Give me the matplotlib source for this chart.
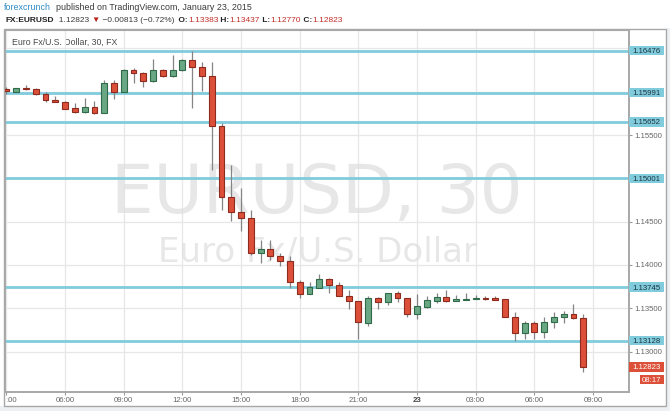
import matplotlib
matplotlib.use('Agg')
import matplotlib.pyplot as plt
from matplotlib.patches import Rectangle
from matplotlib.transforms import blended_transform_factory

# ---------------- data ----------------
opens = [1.16032, 1.16001, 1.16044, 1.16029, 1.15971, 1.15905, 1.15886, 1.15809, 1.15763, 1.15821,
         1.15759, 1.16105, 1.15994, 1.16248, 1.16220, 1.16128, 1.16248, 1.16179, 1.16248, 1.16364,
         1.16290, 1.16186, 1.15601, 1.14785, 1.14615, 1.14543, 1.14142, 1.14185, 1.14104, 1.14043,
         1.13800, 1.13669, 1.13738, 1.13835, 1.13765, 1.13645, 1.13581, 1.13334, 1.13622, 1.13573,
         1.13673, 1.13615, 1.13431, 1.13518, 1.13588, 1.13627, 1.13588, 1.13596, 1.13604, 1.13619,
         1.13619, 1.13604, 1.13403, 1.13218, 1.13330, 1.13230, 1.13338, 1.13396, 1.13434, 1.13383]
highs = [1.16055, 1.16044, 1.16075, 1.16038, 1.15994, 1.15948, 1.15897, 1.15867, 1.15932, 1.15897,
         1.16133, 1.16136, 1.16260, 1.16275, 1.16229, 1.16375, 1.16260, 1.16428, 1.16375, 1.16476,
         1.16341, 1.16347, 1.15643, 1.15151, 1.14889, 1.14635, 1.14289, 1.14289, 1.14142, 1.14104,
         1.13827, 1.13807, 1.13896, 1.13853, 1.13800, 1.13711, 1.13584, 1.13638, 1.13630, 1.13677,
         1.13703, 1.13619, 1.13662, 1.13642, 1.13680, 1.13711, 1.13657, 1.13673, 1.13653, 1.13642,
         1.13642, 1.13611, 1.13454, 1.13350, 1.13350, 1.13396, 1.13454, 1.13465, 1.13550, 1.13437]
lows = [1.15978, 1.15998, 1.16026, 1.15963, 1.15886, 1.15879, 1.15801, 1.15759, 1.15759, 1.15740,
        1.15752, 1.15913, 1.15994, 1.16105, 1.16052, 1.16113, 1.16174, 1.16174, 1.16240, 1.15809,
        1.16013, 1.15093, 1.14635, 1.14511, 1.14396, 1.14115, 1.14026, 1.14058, 1.13992, 1.13738,
        1.13615, 1.13665, 1.13734, 1.13680, 1.13638, 1.13492, 1.13145, 1.13296, 1.13488, 1.13538,
        1.13569, 1.13403, 1.13376, 1.13503, 1.13565, 1.13576, 1.13588, 1.13596, 1.13602, 1.13596,
        1.13598, 1.13396, 1.13122, 1.13149, 1.13142, 1.13160, 1.13269, 1.13327, 1.13371, 1.12770]
closes = [1.16009, 1.16040, 1.16029, 1.15971, 1.15902, 1.15882, 1.15805, 1.15763, 1.15824, 1.15759,
          1.16105, 1.15994, 1.16248, 1.16213, 1.16128, 1.16248, 1.16179, 1.16248, 1.16364, 1.16290,
          1.16186, 1.15601, 1.14785, 1.14615, 1.14543, 1.14142, 1.14185, 1.14107, 1.14043, 1.13800,
          1.13669, 1.13742, 1.13835, 1.13765, 1.13645, 1.13581, 1.13338, 1.13622, 1.13573, 1.13673,
          1.13615, 1.13431, 1.13526, 1.13592, 1.13627, 1.13588, 1.13604, 1.13607, 1.13619, 1.13611,
          1.13599, 1.13403, 1.13218, 1.13330, 1.13230, 1.13338, 1.13396, 1.13434, 1.13383, 1.12823]

levels = [1.16476, 1.15991, 1.15652, 1.15001, 1.13745, 1.13128]
price_ticks = [1.130, 1.135, 1.140, 1.145, 1.150, 1.155, 1.160, 1.165]
hidden_ticks = [1.150, 1.160, 1.165]
time_labels = [':00', '06:00', '09:00', '12:00', '15:00', '18:00', '21:00', '23', '03:00', '06:00', '09:00']
candles_per_label = 6
last_price = 1.12823
countdown = '08:17'

symbol = 'FX:EURUSD'
change = '\u22120.00813 (\u22120.72%)'
ohlc_names = ['O:', 'H:', 'L:', 'C:']
ohlc_values = ['1.13383', '1.13437', '1.12770', '1.12823']

# ---------------- style ----------------
W, H = 670, 411
RED = '#dc5039'
RED_EDGE = '#8e2b1f'
GREEN = '#6aa784'
GREEN_EDGE = '#2f6b48'
WICK = '#858585'
BLUE = '#80cbdc'
GRID = '#e7e7e7'
FRAME = '#a8a8a8'
AXTXT = '#666666'
FAM = ['Liberation Sans', 'DejaVu Sans']

plt.rcParams['font.family'] = FAM

fig = plt.figure(figsize=(W / 100, H / 100), dpi=100)
fig.patch.set_facecolor('white')

# overlay (pixel coordinates) for header and frame
ov = fig.add_axes([0, 0, 1, 1], zorder=0)
ov.set_xlim(0, W)
ov.set_ylim(H, 0)
ov.axis('off')
ov.add_patch(Rectangle((0, 406), W, H - 406, fc='#eef1f4', ec='none'))
ov.add_patch(Rectangle((666, 28), W - 666, H - 28, fc='#eef1f4', ec='none'))
ov.add_patch(Rectangle((4, 29.5), 662, 376.5, fc='white', ec=FRAME, lw=1.0))

# main axes
ax_l, ax_r, ax_t, ax_b = 4.5, 629.0, 30.0, 391.7
ax = fig.add_axes([ax_l / W, (H - ax_b) / H, (ax_r - ax_l) / W, (ax_b - ax_t) / H], zorder=2)
ax.set_facecolor('none')

n = len(opens)
xs = list(range(n))
ax.set_xlim(-0.2, 63.68)
ax.set_ylim(1.12537, 1.16713)

# grid
tick_pos = list(range(0, candles_per_label * len(time_labels), candles_per_label))
for tp in tick_pos:
    ax.axvline(tp, color=GRID, lw=0.9, zorder=0)
for pt in price_ticks:
    ax.axhline(pt, color=GRID, lw=0.9, zorder=0)

# watermark
ax.text(0.5, 0.495, 'EURUSD, 30', transform=ax.transAxes, ha='center', va='baseline',
        fontsize=48.5, color='#dedede', alpha=0.72, family='DejaVu Sans', zorder=1)
ax.text(0.501, 0.359, 'Euro Fx/U.S. Dollar', transform=ax.transAxes, ha='center', va='baseline',
        fontsize=24.5, color='#dedede', alpha=0.72, family='DejaVu Sans', zorder=1)

# levels
for lv in levels:
    ax.axhline(lv, color=BLUE, lw=2.0, zorder=2)

# candles
bw = 0.6
for i in xs:
    o, h, l, c = opens[i], highs[i], lows[i], closes[i]
    up = c >= o
    ax.vlines(i, l, h, color=WICK, lw=0.9, zorder=3)
    bot = min(o, c)
    ht = max(abs(c - o), 0.00004)
    ax.bar(i, ht, bottom=bot, width=bw, color=GREEN if up else RED,
           edgecolor=GREEN_EDGE if up else RED_EDGE, linewidth=0.8, zorder=4)

# axes styling
ax.spines['top'].set_color(FRAME)
ax.spines['top'].set_linewidth(0.8)
for s in ['left', 'bottom', 'right']:
    ax.spines[s].set_color(FRAME)
    ax.spines[s].set_linewidth(1.4)

ax.yaxis.tick_right()
ax.set_yticks(price_ticks)
ax.set_yticklabels(['' if pt in hidden_ticks else f'{pt:.5f}' for pt in price_ticks])
ax.tick_params(axis='y', which='both', length=2.5, width=0.8, color='#999999', pad=1.5,
               labelsize=5.6, labelcolor=AXTXT)
ax.set_xticks(tick_pos)
ax.set_xticklabels(time_labels)
ax.tick_params(axis='x', length=2, width=0.8, color='#999999', pad=1.5, labelsize=5.6, labelcolor=AXTXT)
for lab in ax.get_xticklabels():
    if lab.get_text() == '23':
        lab.set_fontweight('bold')
        lab.set_color('#444444')
    if lab.get_text() == ':00':
        lab.set_horizontalalignment('left')

# price labels on right axis
bt = blended_transform_factory(ax.transAxes, ax.transData)
px_y = (1.16713 - 1.12537) / (ax_b - ax_t)
px_x = 1.0 / (ax_r - ax_l)
box_h = 9.5 * px_y
for lv in levels:
    ax.add_patch(Rectangle((1.0, lv - box_h / 2), 35 * px_x, box_h, transform=bt,
                           fc=BLUE, ec='none', clip_on=False, zorder=5))
    ax.text(1.0 + 3.5 * px_x, lv, f'{lv:.5f}', transform=bt, ha='left', va='center_baseline',
            fontsize=5.6, color='#1d3440', clip_on=False, zorder=6)

ax.add_patch(Rectangle((1.0, last_price - box_h / 2), 35 * px_x, box_h, transform=bt,
                       fc=RED, ec='none', clip_on=False, zorder=5))
ax.text(1.0 + 3.5 * px_x, last_price, f'{last_price:.5f}', transform=bt, ha='left',
        va='center_baseline', fontsize=5.6, color='white', clip_on=False, zorder=6)
cd_y = last_price - 13 * px_y
ax.add_patch(Rectangle((1.0 + 11 * px_x, cd_y - 4.5 * px_y), 24 * px_x, 9 * px_y, transform=bt,
                       fc=RED, ec='none', clip_on=False, zorder=5))
ax.text(1.0 + 23 * px_x, cd_y, countdown, transform=bt, ha='center', va='center_baseline',
        fontsize=5.6, color='white', clip_on=False, zorder=6)

# chart title inside
ov.text(11.5, 42.7, 'Euro Fx/U.S. Dollar, 30, FX', ha='left', va='center', fontsize=6.3,
        color='#4a4a4a', zorder=5)


# header
def chain(segs, x, y, fs):
    prev = None
    for txt, col, wt in segs:
        if prev is None:
            prev = ov.text(x, y, txt, ha='left', va='center', fontsize=fs, color=col,
                           fontweight=wt, family=FAM)
        else:
            prev = ov.annotate(txt, xy=(1, 0.5), xycoords=prev, ha='left', va='center',
                               fontsize=fs, color=col, fontweight=wt, family=FAM)
    return prev


DARK = '#3a3a3a'
HRED = '#c0302a'
chain([('forexcrunch', '#2d8ac8', 'normal'),
       ('  published on TradingView.com, January 23, 2015', DARK, 'normal')], 4.0, 7.5, 6.4)

segs = [(symbol, '#222222', 'bold'), ('  1.12823 ', DARK, 'normal'), ('\u25bc', '#b8201a', 'normal'),
        (' ' + change + ' ', DARK, 'normal')]
for nm, val in zip(ohlc_names, ohlc_values):
    segs.append((' ' + nm, '#222222', 'bold'))
    segs.append((val, HRED, 'normal'))
chain(segs, 5.5, 20.7, 6.0)

fig.savefig('out.png', dpi=100, facecolor=fig.get_facecolor())
